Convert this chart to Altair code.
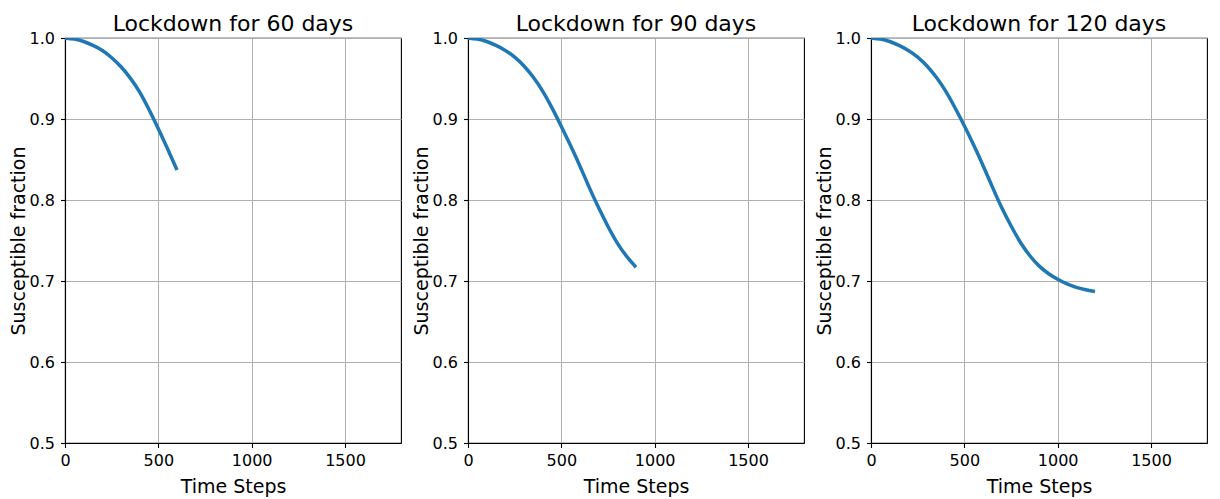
import altair as alt
import pandas as pd

# Time steps and susceptible fraction
steps_60 = [0, 50, 100, 150, 200, 250, 300, 350, 400, 450, 500, 550, 600]
frac_60 = [1.0, 0.999, 0.996, 0.991, 0.985, 0.976, 0.965, 0.951, 0.934, 0.912, 0.888, 0.863, 0.837]

steps_90 = [0, 50, 100, 150, 200, 250, 300, 350, 400, 450, 500, 550, 600, 650, 700, 750, 800, 850, 900]
frac_90 = [1.0, 0.999, 0.996, 0.991, 0.985, 0.977, 0.966, 0.952, 0.935, 0.914, 0.891, 0.867, 0.842, 0.815, 0.790, 0.767, 0.746, 0.730, 0.717]

steps_120 = [0, 50, 100, 150, 200, 250, 300, 350, 400, 450, 500, 550, 600, 650, 700, 750, 800, 850, 900,
             950, 1000, 1050, 1100, 1150, 1200]
frac_120 = [1.0, 0.999, 0.996, 0.991, 0.985, 0.977, 0.966, 0.952, 0.935, 0.914, 0.892, 0.868, 0.843, 0.816, 0.790,
            0.768, 0.747, 0.731, 0.718, 0.709, 0.702, 0.696, 0.692, 0.689, 0.687]

titles = ["Lockdown for 60 days", "Lockdown for 90 days", "Lockdown for 120 days"]
x_ticks = [0, 500, 1000, 1500]
y_ticks = [0.5, 0.6, 0.7, 0.8, 0.9, 1.0]

FONT = "DejaVu Sans"
W, H = 336, 405


def panel(steps, frac, title):
    df = pd.DataFrame({"t": steps, "s": frac})
    return alt.Chart(df).mark_line(
        color="#1f77b4", strokeWidth=3.5, interpolate="basis", clip=True
    ).encode(
        x=alt.X("t:Q", scale=alt.Scale(domain=[0, 1800], nice=False, zero=False),
                axis=alt.Axis(values=x_ticks, title="Time Steps", format="d",
                              titleY=49, titleBaseline="alphabetic")),
        y=alt.Y("s:Q", scale=alt.Scale(domain=[0.5, 1.0], nice=False, zero=False),
                axis=alt.Axis(values=y_ticks, title="Susceptible fraction", format=".1f",
                              titleX=-41, titleY=H / 2, titleAngle=270,
                              titleBaseline="alphabetic", titleAlign="center")),
    ).properties(
        width=W, height=H,
        title=alt.TitleParams(title, fontSize=22, font=FONT, fontWeight="normal",
                              color="black", anchor="middle", baseline="alphabetic", offset=-23),
    )


chart = alt.hconcat(
    panel(steps_60, frac_60, titles[0]),
    panel(steps_90, frac_90, titles[1]),
    panel(steps_120, frac_120, titles[2]),
    spacing=67,
    bounds="flush",
).properties(padding={"top": 4, "left": 0, "right": 0, "bottom": 0}).configure_view(
    stroke="black", strokeWidth=1.1
).configure_axis(
    grid=True, gridColor="#b0b0b0", gridWidth=1,
    domainColor="black", domainWidth=1.1,
    tickColor="black", tickSize=4.5, tickWidth=1.1,
    labelFont=FONT, labelFontSize=16, labelColor="black",
    titleFont=FONT, titleFontSize=19, titleColor="black", titleFontWeight="normal",
    labelFlush=False, labelOverlap=False,
).configure_axisX(
    labelPadding=5,
).configure_axisY(
    labelPadding=6,
)

chart.save("out.html", embed_options={"renderer": "svg", "actions": False})
